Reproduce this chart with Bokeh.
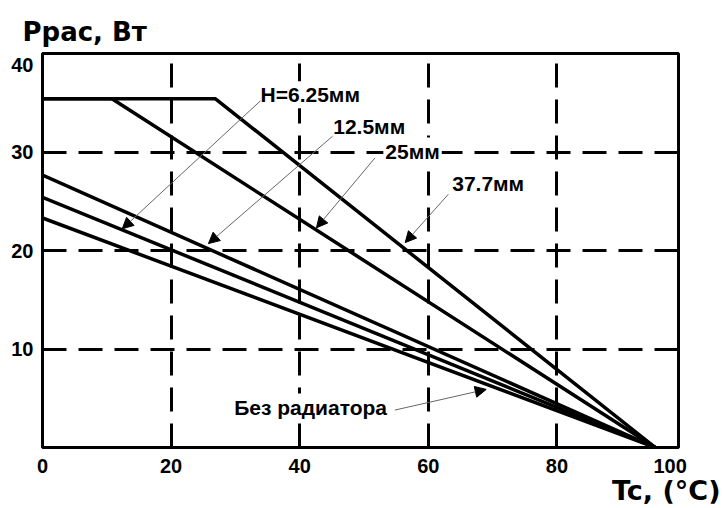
from bokeh.plotting import figure
from bokeh.models import Range1d, FixedTicker, Arrow, NormalHead, ColumnDataSource, Title
from bokeh.core.properties import value
from bokeh.embed import file_html
from bokeh.resources import INLINE

# ---- data ----
x_tick_positions = [0, 20, 40, 60, 80, 97.6]
x_tick_labels = ["0", "20", "40", "60", "80", "100"]
y_tick_positions = [10, 20, 30, 38.8]
y_tick_labels = ["10", "20", "30", "40"]
x_grid = [20, 40, 60, 80]
y_grid = [10, 20, 30]

h377_x = [0, 26.9, 95.3]
h377_y = [35.4, 35.4, 0]
h25_x = [0, 10.8, 95.3]
h25_y = [35.4, 35.4, 0]
h125_x = [0, 95.3]
h125_y = [27.65, 0]
h625_x = [0, 95.3]
h625_y = [25.4, 0]
none_x = [0, 95.3]
none_y = [23.3, 0]

label_texts = ["H=6.25мм", "12.5мм", "25мм", "37.7мм", "Без радиатора"]
label_x = [33.6, 44.9, 53.0, 63.4, 29.5]
label_y = [35.8, 32.6, 30.1, 26.8, 4.1]

arrow_x_start = [33.9, 45.1, 51.7, 63.1, 54.8]
arrow_y_start = [35.2, 31.6, 29.4, 25.7, 3.8]
arrow_x_end = [12.4, 25.8, 42.6, 56.4, 69.0]
arrow_y_end = [22.2, 20.7, 22.3, 20.8, 5.9]

y_title = "Ррас, Вт"
x_title = "Tc, (°C)"

FONT = "Liberation Sans"
TFONT = "DejaVu Sans"

p = figure(width=724, height=508, output_backend="svg", toolbar_location=None,
           x_range=Range1d(0, 98.9), y_range=Range1d(0, 40))
p.min_border_left = 42
p.min_border_right = 46
p.min_border_top = 53
p.min_border_bottom = 61
p.background_fill_color = "white"
p.border_fill_color = "white"
p.outline_line_color = "black"
p.outline_line_width = 3

p.title = Title(text=y_title, align="left", offset=-20, standoff=13,
                text_font=TFONT, text_font_style="bold", text_font_size="26px",
                text_color="black")

for ax, pos, labs in ((p.xaxis[0], x_tick_positions, x_tick_labels),
                      (p.yaxis[0], y_tick_positions, y_tick_labels)):
    ax.ticker = FixedTicker(ticks=pos)
    ax.major_label_overrides = {t: l for t, l in zip(pos, labs)}
    ax.axis_line_color = None
    ax.major_tick_line_color = None
    ax.minor_tick_line_color = None
    ax.major_tick_in = 0
    ax.major_tick_out = 0
    ax.major_label_text_font = FONT
    ax.major_label_text_font_style = "bold"
    ax.major_label_text_font_size = "20px"
    ax.major_label_text_color = "black"
p.xaxis.major_label_standoff = 11
p.yaxis.major_label_standoff = 9

p.add_layout(Title(text=x_title, align="right", offset=-42, standoff=-5,
                   text_font=TFONT, text_font_style="bold", text_font_size="27px",
                   text_color="black"), "below")

p.xgrid.ticker = FixedTicker(ticks=x_grid)
p.ygrid.ticker = FixedTicker(ticks=y_grid)
for g in (p.xgrid[0], p.ygrid[0]):
    g.grid_line_color = "black"
    g.grid_line_width = 3
    g.grid_line_dash = "24 12"

for xs, ys in ((h377_x, h377_y), (h25_x, h25_y), (h125_x, h125_y),
               (h625_x, h625_y), (none_x, none_y)):
    p.line(xs, ys, line_color="black", line_width=3.5)

asrc = ColumnDataSource(dict(x0=arrow_x_start, y0=arrow_y_start, x1=arrow_x_end, y1=arrow_y_end))
p.add_layout(Arrow(source=asrc, x_start="x0", y_start="y0", x_end="x1", y_end="y1",
                   line_color="#666666", line_width=1,
                   end=NormalHead(size=11, fill_color="black", line_color="black", line_width=1)))

lsrc = ColumnDataSource(dict(x=label_x, y=label_y, t=label_texts))
p.text(x="x", y="y", text="t", source=lsrc, text_font=value(FONT), text_font_style="bold",
       text_font_size="21px", text_align="left", text_baseline="middle", text_color="black",
       background_fill_color="white", padding=2)

open("out.html", "w").write(file_html(p, INLINE))
